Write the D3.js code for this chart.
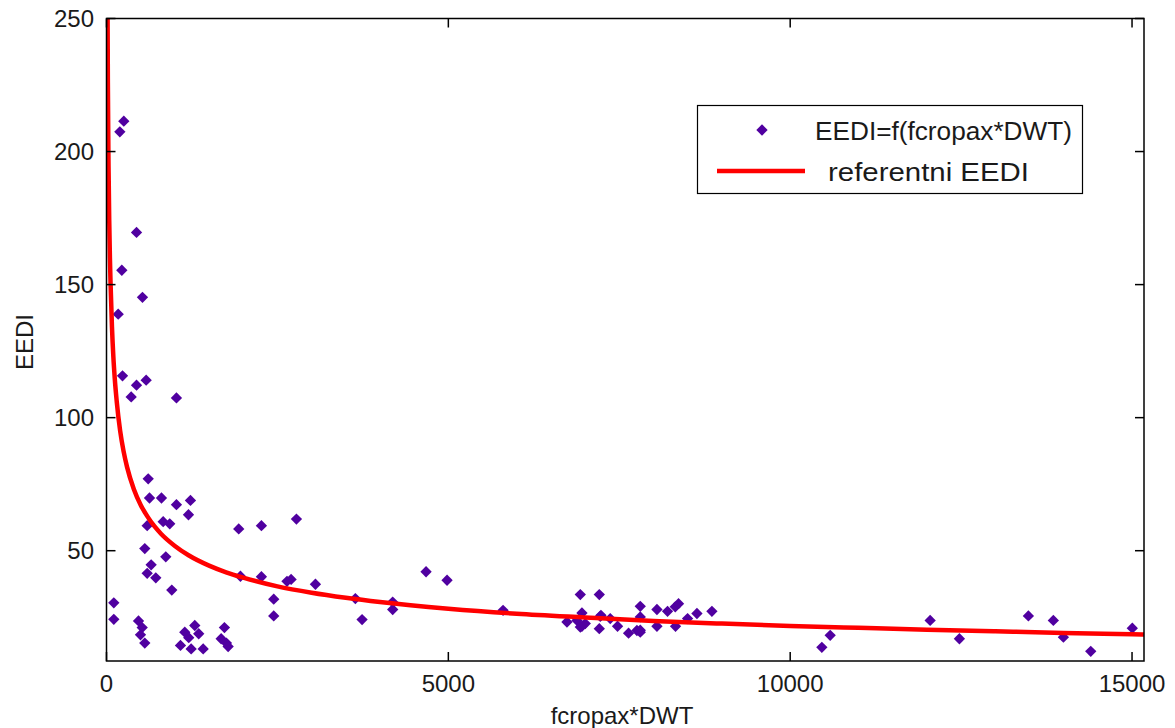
<!DOCTYPE html>
<html>
<head>
<meta charset="utf-8">
<script src="https://cdn.jsdelivr.net/npm/d3@7"></script>
<style>
  html, body { margin: 0; padding: 0; background: #fff; }
  svg { display: block; }
  text { font-family: "Liberation Sans", Arial, sans-serif; fill: #1a1a1a; }
</style>
</head>
<body>
<svg id="chart" width="1175" height="728"></svg>
<script>
// ---- data ----
const pointX = [253,195,439,224,526,171,234,580,439,361,1023,
  610,629,804,1023,1228,1199,595,829,925,1934,2266,2778,
  560,867,653,595,721,955,107,107,468,522,497,560,1291,1145,1203,1349,1082,1238,1414,1725,1677,1754,1779,
  1959,2266,2446,2446,2640,2700,3056,3738,3640,4186,4186,4674,4981,5800,
  6930,7208,6954,6735,6881,6954,7003,7222,7208,7368,7475,7636,7758,7807,7807,7807,7807,
  8051,8051,8206,8319,8367,8323,8499,8636,8855,6930,7232,
  10463,10585,12047,12475,13484,13849,13996,14396,15004];
const pointY = [211.4,207.4,169.6,155.4,145.2,138.9,115.7,114.1,112.2,107.8,107.4,
  77.0,69.8,69.8,67.3,68.9,63.5,59.4,60.9,60.1,58.2,59.4,61.9,
  50.8,47.7,44.7,41.5,39.8,35.2,30.4,24.2,23.6,21.1,18.4,15.3,21.9,19.4,17.3,18.8,14.4,13.1,13.1,21.1,16.9,15.3,14.0,
  40.4,40.2,31.8,25.5,38.5,39.2,37.4,24.1,32.0,30.7,27.9,42.1,38.9,27.6,
  33.5,33.5,26.6,23.2,23.8,21.6,22.6,25.3,20.7,24.5,21.6,19.0,20.0,19.4,29.1,25.1,20.1,
  27.9,21.6,27.2,28.9,30.1,21.6,24.5,26.4,27.2,21.3,25.7,
  13.7,18.2,23.8,16.9,25.5,23.8,17.5,12.2,20.9];
const curveX = [16,20,30,40,50,60,80,100,120,150,200,250,300,400,500,600,700,800,1000,1200,1500,1750,2000,2500,3000,3500,4000,5000,6000,7000,8000,9000,10000,11000,12000,13000,14000,15000,15175];
const curveY = [250,226,194,174,160,150,134,123,115,106,95,87.3,81.5,73.1,67.2,62.8,59.2,56.3,51.8,48.3,44.4,41.9,39.9,36.6,34.2,32.3,30.7,28.2,26.3,24.9,23.6,22.6,21.7,21.0,20.3,19.7,19.1,18.6,18.5];
const xTicks = [0,5000,10000,15000];
const yTicks = [50,100,150,200,250];
const seriesNames = ["EEDI=f(fcropax*DWT)", "referentni EEDI"];
const xTitle = "fcropax*DWT";
const yTitle = "EEDI";

// ---- layout ----
const L = 106.5, R = 1144, T = 18.5, B = 661;
const svg = d3.select("#chart");
const x = d3.scaleLinear().domain([0, 15175]).range([L, R]);
const y = d3.scaleLinear().domain([8.55, 250]).range([B, T]);
const purple = "#5000a0", red = "#ff0000";

svg.append("defs").append("clipPath").attr("id", "clip")
  .append("rect").attr("x", L).attr("y", T).attr("width", R - L).attr("height", B - T);

// points
const sym = d3.symbol().type(d3.symbolSquare).size(64);
svg.append("g").attr("clip-path", "url(#clip)")
  .selectAll("path").data(pointX.map((v, i) => [v, pointY[i]])).join("path")
  .attr("d", sym)
  .attr("transform", d => `translate(${x(d[0])},${y(d[1])}) rotate(45)`)
  .attr("fill", purple);

// reference curve
svg.append("path").attr("clip-path", "url(#clip)")
  .datum(curveX.map((v, i) => [v, curveY[i]]))
  .attr("d", d3.line().curve(d3.curveMonotoneX).x(d => x(d[0])).y(d => y(d[1])))
  .attr("fill", "none").attr("stroke", red).attr("stroke-width", 4.5)
  .attr("stroke-linejoin", "round");

// axes (box with inward ticks)
const tl = 9;
const axG = svg.append("g").attr("stroke", "#000").attr("stroke-width", 1.5);
axG.append("rect").attr("x", L).attr("y", T).attr("width", R - L).attr("height", B - T).attr("fill", "none");
xTicks.forEach(t => {
  axG.append("line").attr("x1", x(t)).attr("x2", x(t)).attr("y1", B).attr("y2", B - tl);
  axG.append("line").attr("x1", x(t)).attr("x2", x(t)).attr("y1", T).attr("y2", T + tl);
});
yTicks.forEach(t => {
  axG.append("line").attr("x1", L).attr("x2", L + tl).attr("y1", y(t)).attr("y2", y(t));
  axG.append("line").attr("x1", R).attr("x2", R - tl).attr("y1", y(t)).attr("y2", y(t));
});
svg.append("g").selectAll("text").data(xTicks).join("text")
  .attr("x", d => x(d)).attr("y", 692).attr("text-anchor", "middle")
  .attr("font-size", 24).text(d => d);
svg.append("g").selectAll("text").data(yTicks).join("text")
  .attr("x", 94).attr("y", d => y(d) + 8.5).attr("text-anchor", "end")
  .attr("font-size", 24).text(d => d);

svg.append("text").attr("x", 622).attr("y", 724).attr("text-anchor", "middle")
  .attr("font-size", 24).text(xTitle);
svg.append("text").attr("transform", "translate(33,342) rotate(-90)").attr("text-anchor", "middle")
  .attr("font-size", 24).text(yTitle);

// legend
const lg = svg.append("g");
lg.append("rect").attr("x", 697.5).attr("y", 105.5).attr("width", 385).attr("height", 88)
  .attr("fill", "#fff").attr("stroke", "#000").attr("stroke-width", 1.2);
lg.append("path").attr("d", sym).attr("transform", "translate(762,130) rotate(45)").attr("fill", purple);
lg.append("line").attr("x1", 717).attr("x2", 805).attr("y1", 171).attr("y2", 171)
  .attr("stroke", red).attr("stroke-width", 4.5);
lg.append("text").attr("x", 815).attr("y", 140).attr("font-size", 25)
  .attr("textLength", 257).attr("lengthAdjust", "spacingAndGlyphs").text(seriesNames[0]);
lg.append("text").attr("x", 828).attr("y", 181).attr("font-size", 25)
  .attr("textLength", 201).attr("lengthAdjust", "spacingAndGlyphs").text(seriesNames[1]);
</script>
</body>
</html>
